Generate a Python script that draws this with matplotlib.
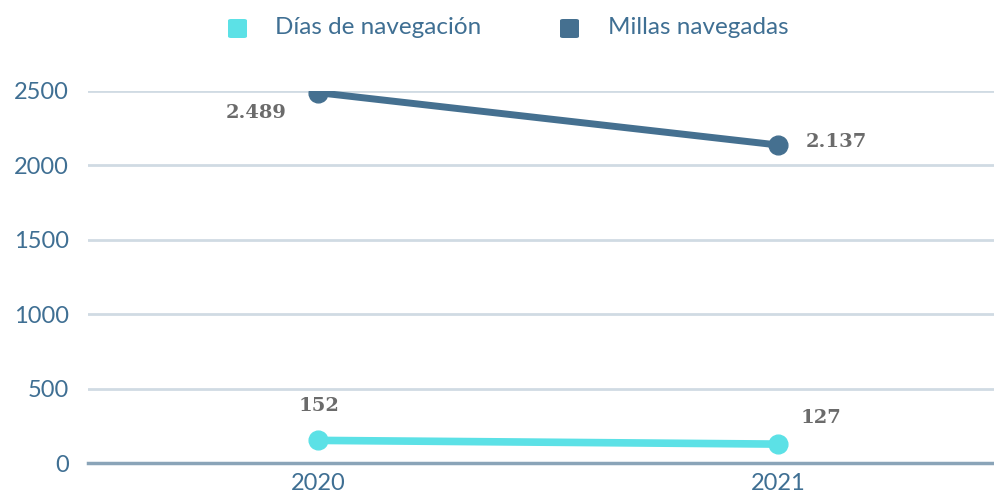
import matplotlib
matplotlib.use("Agg")
import matplotlib.pyplot as plt
from matplotlib.patches import FancyBboxPatch

# ── Data ──────────────────────────────────────────────────────────────────────
years = ["2020", "2021"]
dias = [152, 127]
millas = [2489, 2137]
dias_labels = ["152", "127"]
millas_labels = ["2.489", "2.137"]
series_names = ["Días de navegación", "Millas navegadas"]
yticks = [0, 500, 1000, 1500, 2000, 2500]

# ── Colours ───────────────────────────────────────────────────────────────────
CYAN = "#5ce1e6"
NAVY = "#457090"
TICK = "#3f6f93"
GRID = "#d0dbe3"
LABEL = "#6b6b6b"

plt.rcParams["font.family"] = ["Lato", "DejaVu Sans"]

W, H = 995, 497
fig = plt.figure(figsize=(W / 100, H / 100), dpi=100)
ax = fig.add_axes([88 / W, 34 / H, 907 / W, 372 / H])

x = list(range(len(years)))
ax.plot(x, millas, color=NAVY, lw=5, marker="o", ms=13.5, solid_capstyle="round", zorder=3)
ax.plot(x, dias, color=CYAN, lw=5.5, marker="o", ms=13.5, solid_capstyle="round", zorder=3)

ax.set_xlim(-0.5, -0.5 + 907 / 460)
ax.set_ylim(0, 2500)
ax.set_yticks(yticks)
ax.set_xticks(x)
ax.set_xticklabels(years)
ax.yaxis.grid(True, color=GRID, lw=2)
ax.set_axisbelow(True)
for side in ["top", "right", "left"]:
    ax.spines[side].set_visible(False)
ax.spines["bottom"].set_color("#8aa4b8")
ax.spines["bottom"].set_linewidth(2.5)
ax.spines["bottom"].set_zorder(2)
ax.tick_params(axis="both", length=0, colors=TICK, labelsize=17)
ax.tick_params(axis="y", pad=14)
ax.tick_params(axis="x", pad=7)

# data labels
lab_kw = dict(color=LABEL, fontsize=14, fontweight="bold", family="DejaVu Serif",
              ha="center", va="center")
ax.annotate(millas_labels[0], (x[0], millas[0]), xytext=(-62, -20), textcoords="offset pixels", **lab_kw)
ax.annotate(millas_labels[1], (x[1], millas[1]), xytext=(58, 3), textcoords="offset pixels", **lab_kw)
ax.annotate(dias_labels[0], (x[0], dias[0]), xytext=(1, 34), textcoords="offset pixels", **lab_kw)
ax.annotate(dias_labels[1], (x[1], dias[1]), xytext=(43, 26), textcoords="offset pixels", **lab_kw)

# legend, placed by hand
for name, color, sq_x, txt_x in zip(series_names, [CYAN, NAVY], [228, 560], [275, 608]):
    fig.patches.append(FancyBboxPatch(
        (sq_x / W, (H - 38) / H), 19 / W, 19 / H,
        boxstyle="round,pad=0,rounding_size=0.003",
        transform=fig.transFigure, facecolor=color, edgecolor="none",
    ))
    fig.text(txt_x / W, 1 - 28 / H, name, color=TICK, fontsize=17.5,
             ha="left", va="center")

fig.savefig("out.png", dpi=100, facecolor="white")
